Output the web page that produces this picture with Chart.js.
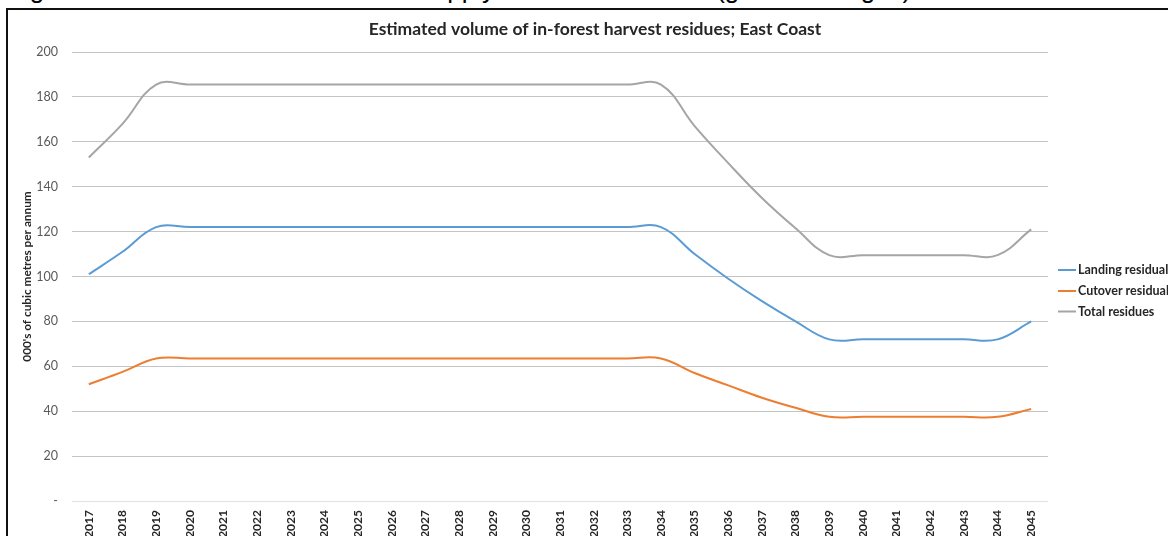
<!DOCTYPE html>
<html>
<head>
<meta charset="utf-8">
<script src="https://cdn.jsdelivr.net/npm/chart.js@4/dist/chart.umd.min.js"></script>
<style>
  html, body { margin: 0; padding: 0; background: #fff; overflow: hidden; }
  #wrap { position: relative; width: 1168px; height: 536px; overflow: hidden; }
  #caption {
    position: absolute; left: 8px; top: -24px; white-space: nowrap;
    font-family: "Liberation Sans", Arial, sans-serif; font-size: 26px; line-height: 26px; color: #000;
  }
  #frame {
    position: absolute; left: 6px; top: 8px; width: 1300px; height: 700px;
    border: 2px solid #111; pointer-events: none;
  }
  canvas { position: absolute; left: 0; top: 0; }
</style>
</head>
<body>
<div id="wrap">
  <div id="caption">Figure 14: In-forest harvest residue supply on the East Coast (gross tonnages)</div>
  <canvas id="c" width="1168" height="536"></canvas>
  <div id="frame"></div>
</div>
<script>
// Harvest years
const years = ['2017','2018','2019','2020','2021','2022','2023','2024','2025','2026',
               '2027','2028','2029','2030','2031','2032','2033','2034','2035','2036',
               '2037','2038','2039','2040','2041','2042','2043','2044','2045'];

// Residue volumes, 000's of cubic metres per annum
const landingResiduals = [101, 111, 122, 122, 122, 122, 122, 122, 122, 122,
                          122, 122, 122, 122, 122, 122, 122, 122, 110, 99,
                          89, 80, 72, 72, 72, 72, 72, 72, 80];
const cutoverResiduals = [52, 57.5, 63.5, 63.5, 63.5, 63.5, 63.5, 63.5, 63.5, 63.5,
                          63.5, 63.5, 63.5, 63.5, 63.5, 63.5, 63.5, 63.5, 57, 51.5,
                          46, 41.5, 37.5, 37.5, 37.5, 37.5, 37.5, 37.5, 41];
const totalResidues    = [153, 168, 185.5, 185.5, 185.5, 185.5, 185.5, 185.5, 185.5, 185.5,
                          185.5, 185.5, 185.5, 185.5, 185.5, 185.5, 185.5, 185.5, 167, 150.5,
                          135, 121.5, 109.5, 109.5, 109.5, 109.5, 109.5, 109.5, 121];

const seriesNames = ['Landing residuals', 'Cutover residuals', 'Total residues'];
const yTicks = [0, 20, 40, 60, 80, 100, 120, 140, 160, 180, 200];
const chartTitle = 'Estimated volume of in-forest harvest residues; East Coast';
const yTitle = "000's of cubic metres per annum";

const FONT = 'Lato, "Open Sans", sans-serif';
const colors = ['#5B9BD5', '#ED7D31', '#A5A5A5'];

// Title and side legend drawn onto the canvas
const titleAndLegend = {
  id: 'titleAndLegend',
  afterDraw(chart) {
    const ctx = chart.ctx;
    ctx.save();
    ctx.fillStyle = '#262626';
    ctx.font = 'bold 17.5px ' + FONT;
    ctx.textAlign = 'center';
    ctx.textBaseline = 'middle';
    ctx.fillText(chartTitle, 595, 29);

    ctx.font = 'bold 12.5px ' + FONT;
    ctx.textAlign = 'left';
    const rows = [270, 291, 311.5];
    chart.data.datasets.forEach((ds, i) => {
      const y = rows[i];
      ctx.strokeStyle = ds.borderColor;
      ctx.lineWidth = 2;
      ctx.beginPath();
      ctx.moveTo(1058, y);
      ctx.lineTo(1076, y);
      ctx.stroke();
      ctx.fillStyle = '#262626';
      ctx.fillText(ds.label, 1078, y);
    });
    ctx.restore();
  }
};

const mkSet = (label, data, color) => ({
  label, data,
  borderColor: color,
  backgroundColor: color,
  borderWidth: 2,
  pointRadius: 0,
  tension: 0.4,
  fill: false
});

new Chart(document.getElementById('c'), {
  type: 'line',
  data: {
    labels: years,
    datasets: [
      mkSet(seriesNames[0], landingResiduals, colors[0]),
      mkSet(seriesNames[1], cutoverResiduals, colors[1]),
      mkSet(seriesNames[2], totalResidues, colors[2])
    ]
  },
  options: {
    responsive: false,
    animation: false,
    devicePixelRatio: 1,
    layout: { padding: { left: 14, top: 52, right: 120, bottom: 0 } },
    plugins: {
      legend: { display: false },
      title: { display: false },
      tooltip: { enabled: false }
    },
    scales: {
      x: {
        type: 'category',
        offset: true,
        grid: { display: false, drawTicks: false },
        border: { display: false },
        ticks: {
          autoSkip: false, maxRotation: 90, minRotation: 90, padding: 9,
          color: '#262626', font: { family: FONT, size: 12, weight: 'bold' }
        },
        afterFit(s) { s.height = 35; }
      },
      y: {
        min: 0, max: 200,
        afterBuildTicks(s) { s.ticks = yTicks.map(v => ({ value: v })); },
        grid: {
          drawTicks: false, lineWidth: 1,
          color: ctx => (ctx.tick && ctx.tick.value === 0) ? '#e2e2e2' : '#c4c4c4'
        },
        border: { display: false },
        ticks: {
          padding: 14, color: '#595959',
          font: { family: FONT, size: 12.5 },
          callback: v => v === 0 ? '-' : String(v)
        },
        title: {
          display: true, text: yTitle, color: '#262626',
          font: { family: FONT, size: 11.8, weight: 'bold' },
          padding: { top: 6, bottom: 0 }
        },
        afterFit(s) { s.width = 58; }
      }
    }
  },
  plugins: [titleAndLegend]
});
</script>
</body>
</html>
